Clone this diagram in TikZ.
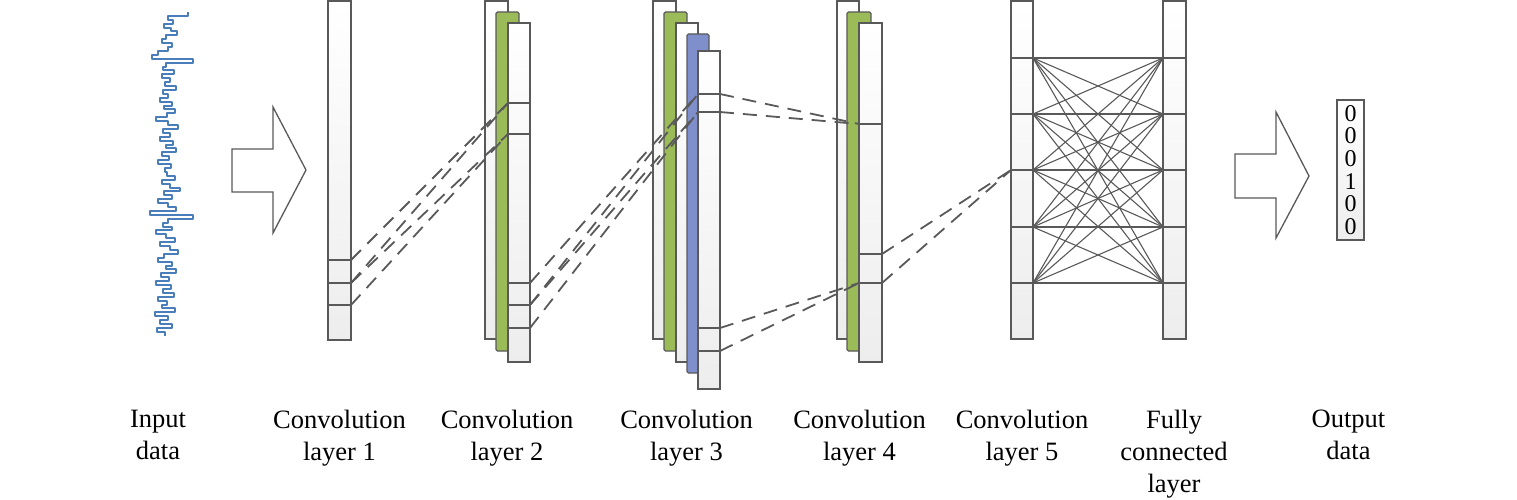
\documentclass[tikz,border=0pt]{standalone}
\usepackage{fontspec}
\setmainfont{Liberation Serif}
\definecolor{linegray}{HTML}{595959}
\definecolor{mygreen}{HTML}{9BBB59}
\definecolor{myblue}{HTML}{7F8FCC}
\definecolor{sigblue}{HTML}{4A7EBB}
\begin{document}
\begin{tikzpicture}[x=1pt,y=-1pt,
  cellbox/.style={draw=linegray, line width=1.2pt, top color=white, bottom color=black!7, inner sep=0pt, outer sep=0pt, anchor=north west},
  greenbox/.style={draw=linegray, line width=1.2pt, fill=mygreen, inner sep=0pt, outer sep=0pt, anchor=north west, rounded corners=1.5pt},
  bluebox/.style={draw=linegray, line width=1.2pt, fill=myblue, inner sep=0pt, outer sep=0pt, anchor=north west, rounded corners=1.5pt},
  divider/.style={draw=linegray, line width=1.2pt},
  conn/.style={draw=linegray, line width=1.8pt, dash pattern=on 14pt off 9pt},
  fcline/.style={draw=linegray, line width=1.1pt},
  bigarrow/.style={draw=linegray, line width=1.3pt, fill=white, line join=miter},
  sig/.style={draw=sigblue, line width=2pt, line join=round},
  lbl/.style={font=\fontsize{26.5}{32}\selectfont, align=center, inner sep=0pt, anchor=north}
]
\useasboundingbox (0,0) rectangle (1517,500);

% input signal
\draw[sig] (188,12) foreach \v [count=\i] in {188,168,173,164,171,177,166,162,172,168,158,152,193,166,163,174,162,170,165,176,163,168,160,172,164,175,167,156,168,178,163,170,160,173,166,176,162,169,158,171,165,167,175,162,170,180,164,172,158,168,176,150,193,168,163,172,156,166,175,160,170,178,164,158,172,166,176,161,169,156,171,163,174,158,167,162,175,155,168,160,172,157,165} { -- (\v,{12+3.9*(\i-1)}) -- (\v,{12+3.9*\i}) };

% arrows
\draw[bigarrow] (232,149) -- (273,149) -- (273,107) -- (306,170) -- (273,233) -- (273,192) -- (232,192) -- cycle;
\draw[bigarrow] (1235,154) -- (1276,154) -- (1276,112) -- (1309,176) -- (1276,238) -- (1276,198) -- (1235,198) -- cycle;

% layer 1
\node[cellbox, minimum width=23pt, minimum height=339pt] (L1) at (328,1) {};
% layer 2
\node[cellbox, minimum width=23pt, minimum height=338pt] (L2a) at (485,1) {};
\node[greenbox, minimum width=23pt, minimum height=339pt] (L2b) at (496,12) {};
\node[cellbox, minimum width=22pt, minimum height=339pt] (L2c) at (508,23) {};
% layer 3
\node[cellbox, minimum width=23pt, minimum height=338pt] (L3a) at (653,1) {};
\node[greenbox, minimum width=23pt, minimum height=339pt] (L3b) at (664,12) {};
\node[cellbox, minimum width=22pt, minimum height=339pt] (L3c) at (676,23) {};
\node[bluebox, minimum width=22pt, minimum height=339pt] (L3d) at (687,34) {};
\node[cellbox, minimum width=22pt, minimum height=338pt] (L3e) at (698,51) {};
% layer 4
\node[cellbox, minimum width=22pt, minimum height=338pt] (L4a) at (837,1) {};
\node[greenbox, minimum width=24pt, minimum height=339pt] (L4b) at (847,12) {};
\node[cellbox, minimum width=23pt, minimum height=339pt] (L4c) at (859,23) {};
% layer 5 and FC
\node[cellbox, minimum width=22pt, minimum height=338pt] (L5) at (1011,1) {};
\node[cellbox, minimum width=23pt, minimum height=338pt] (FC) at (1163,1) {};

% divider coordinates
\foreach \y [count=\k] in {260,283,305} {
  \coordinate (a\k w) at (328,\y); \coordinate (a\k e) at (351,\y);
  \draw[divider] (a\k w) -- (a\k e);
}
\foreach \y [count=\k] in {103,134,283,305,328} {
  \coordinate (b\k w) at (508,\y); \coordinate (b\k e) at (530,\y);
  \draw[divider] (b\k w) -- (b\k e);
}
\foreach \y [count=\k] in {94,112,328,351} {
  \coordinate (c\k w) at (698,\y); \coordinate (c\k e) at (720,\y);
  \draw[divider] (c\k w) -- (c\k e);
}
\foreach \y [count=\k] in {124,254,283} {
  \coordinate (d\k w) at (859,\y); \coordinate (d\k e) at (882,\y);
  \draw[divider] (d\k w) -- (d\k e);
}
\foreach \y [count=\k] in {58,114,170,227,283} {
  \coordinate (e\k w) at (1011,\y); \coordinate (e\k e) at (1033,\y);
  \coordinate (f\k w) at (1163,\y); \coordinate (f\k e) at (1186,\y);
  \draw[divider] (e\k w) -- (e\k e);
  \draw[divider] (f\k w) -- (f\k e);
}

% dashed connectors
\draw[conn] (a1e) -- (b1w);
\draw[conn] (a2e) -- (b1w);
\draw[conn] (a2e) -- (b2w);
\draw[conn] (a3e) -- (b2w);
\draw[conn] (b3e) -- (c1w);
\draw[conn] (b4e) -- (c1w);
\draw[conn] (b4e) -- (c2w);
\draw[conn] (b5e) -- (c2w);
\draw[conn] (c1e) -- (d1w);
\draw[conn] (c2e) -- (d1w);
\draw[conn] (c3e) -- (d3w);
\draw[conn] (c4e) -- (d3w);
\draw[conn] (d2e) -- (e3w);
\draw[conn] (d3e) -- (e3w);

% fully connected lines
\foreach \i in {1,...,5} {
  \foreach \j in {1,...,5} {
    \draw[fcline] (e\i e) -- (f\j w);
  }
}

% output vector
\node[draw=linegray, line width=1.2pt, top color=white, bottom color=black!7, minimum width=27pt, minimum height=140pt, inner sep=0pt, align=center, font=\fontsize{24}{22.6}\selectfont] (out) at (1350.5,170) {0\\0\\0\\1\\0\\0};

% labels
\node[lbl] (t0) at (158,410) {Input\\data};
\node[lbl] (t1) at (339.5,410) {Convolution\\layer 1};
\node[lbl] (t2) at (507,410) {Convolution\\layer 2};
\node[lbl] (t3) at (686.5,410) {Convolution\\layer 3};
\node[lbl] (t4) at (859.5,410) {Convolution\\layer 4};
\node[lbl] (t5) at (1022,410) {Convolution\\layer 5};
\node[lbl] (t6) at (1174,410) {Fully\\connected\\layer};
\node[lbl] (t7) at (1348.5,410) {Output\\data};
\end{tikzpicture}
\end{document}
